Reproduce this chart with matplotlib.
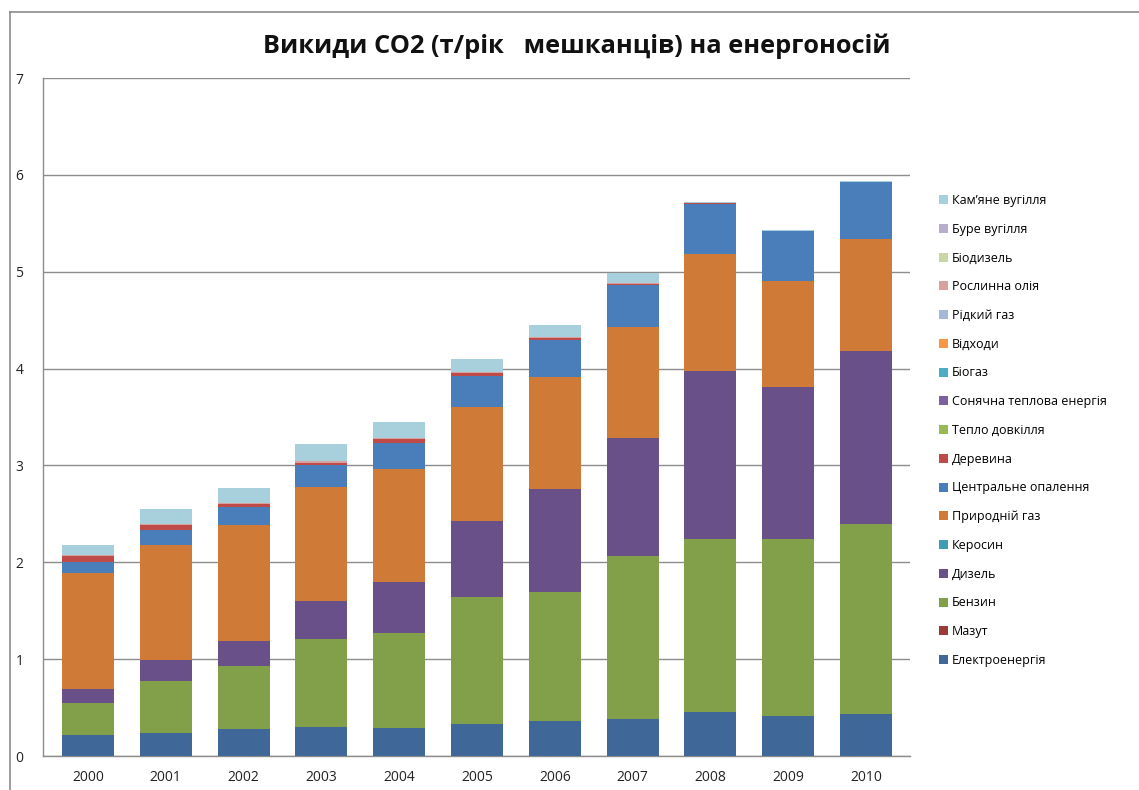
import matplotlib
matplotlib.use("Agg")
import matplotlib.pyplot as plt
import numpy as np
from matplotlib.lines import Line2D

plt.rcParams['font.family'] = ['Open Sans', 'DejaVu Sans']

years = ['2000', '2001', '2002', '2003', '2004', '2005', '2006', '2007', '2008', '2009', '2010']

# series, bottom of the stack first
names = ['Електроенергія', 'Мазут', 'Бензин', 'Дизель', 'Керосин', 'Природній газ',
         'Центральне опалення', 'Деревина', 'Тепло довкілля', 'Сонячна теплова енергія',
         'Біогаз', 'Відходи', 'Рідкий газ', 'Рослинна олія', 'Біодизель', 'Буре вугілля',
         'Кам’яне вугілля']

elektro = [0.22, 0.24, 0.28, 0.30, 0.29, 0.33, 0.36, 0.38, 0.45, 0.41, 0.43]
mazut = [0, 0, 0, 0, 0, 0, 0, 0, 0, 0, 0]
benzyn = [0.33, 0.53, 0.65, 0.91, 0.98, 1.31, 1.33, 1.69, 1.79, 1.83, 1.97]
dyzel = [0.14, 0.22, 0.26, 0.39, 0.53, 0.79, 1.07, 1.21, 1.74, 1.57, 1.78]
kerosyn = [0, 0, 0, 0, 0, 0, 0, 0, 0, 0, 0]
pryrodnyi_gaz = [1.20, 1.19, 1.19, 1.18, 1.16, 1.17, 1.15, 1.15, 1.20, 1.09, 1.16]
tsentr_opal = [0.11, 0.15, 0.19, 0.22, 0.27, 0.32, 0.39, 0.43, 0.52, 0.52, 0.59]
derevyna = [0.06, 0.05, 0.03, 0.03, 0.04, 0.03, 0.02, 0.01, 0.005, 0.005, 0]
teplo_dovk = [0, 0, 0, 0, 0, 0, 0, 0, 0, 0, 0]
sonyachna = [0, 0, 0, 0, 0, 0, 0, 0, 0, 0, 0]
biogaz = [0, 0, 0, 0, 0, 0, 0, 0, 0, 0, 0]
vidkhody = [0, 0, 0, 0, 0, 0, 0, 0, 0, 0, 0]
ridkyi_gaz = [0, 0, 0, 0, 0, 0, 0, 0, 0, 0, 0]
roslynna_oliya = [0.015, 0.015, 0.015, 0.02, 0.015, 0.01, 0.01, 0.01, 0, 0, 0]
biodyzel = [0, 0, 0, 0, 0, 0, 0, 0, 0, 0, 0]
bure_vug = [0, 0, 0, 0, 0, 0, 0, 0, 0, 0, 0]
kamyane_vug = [0.10, 0.16, 0.15, 0.17, 0.16, 0.14, 0.12, 0.11, 0.01, 0.01, 0.01]

series = [elektro, mazut, benzyn, dyzel, kerosyn, pryrodnyi_gaz, tsentr_opal, derevyna,
          teplo_dovk, sonyachna, biogaz, vidkhody, ridkyi_gaz, roslynna_oliya, biodyzel,
          bure_vug, kamyane_vug]

colors = ['#3F6899', '#9B3B38', '#82A04A', '#6A5089', '#3E9DB5', '#CF7B37',
          '#4A7EBB', '#BE4B48', '#98B954', '#7D60A0', '#4BACC6', '#F79646',
          '#A5B8D8', '#D9A0A0', '#C8D6A8', '#B7AECB', '#A8D0DC']

fig = plt.figure(figsize=(11.39, 7.90), dpi=100)
ax = fig.add_axes([43/1139, 34/790, 867/1139, 678/790])

x = np.arange(len(years))
bottom = np.zeros(len(years))
bars = []
for name, vals, c in zip(names, series, colors):
    b = ax.bar(x, vals, 0.667, bottom=bottom, color=c, label=name, zorder=3)
    bars.append(b)
    bottom = bottom + np.array(vals)

ax.set_xlim(-0.578, 10.565)
ax.set_ylim(0, 7)
ax.set_yticks(range(0, 8))
ax.set_xticks(x)
ax.set_xticklabels(years)
ax.yaxis.grid(True, color='#8c8c8c', linewidth=1.0, zorder=0)
ax.tick_params(axis='both', length=0, labelsize=10, colors='#222222')
ax.tick_params(axis='y', pad=14)
ax.tick_params(axis='x', pad=10)
for s in ['top', 'right']:
    ax.spines[s].set_visible(False)
for s in ['left', 'bottom']:
    ax.spines[s].set_color('#8c8c8c')
    ax.spines[s].set_linewidth(1.0)

fig.text(577/1139, 1 - 46/790, 'Викиди CO2 (т/рік   мешканців) на енергоносій',
         ha='center', va='center', fontsize=18.3, fontweight='bold', color='#111111')

handles = bars[::-1]
labels = names[::-1]
fig.legend(handles, labels, loc='upper left', bbox_to_anchor=(934/1139, 1 - 189/790),
           frameon=False, fontsize=9, handlelength=0.75, handleheight=0.75,
           handletextpad=0.3, labelspacing=1.26, borderaxespad=0)

# outer chart border
fig.add_artist(Line2D([9.5/1139, 1.0], [1 - 11.5/790, 1 - 11.5/790], color='#8c8c8c', linewidth=1.2))
fig.add_artist(Line2D([9.5/1139, 9.5/1139], [0.0, 1 - 11.5/790], color='#8c8c8c', linewidth=1.2))

fig.savefig('out.png', dpi=100)
